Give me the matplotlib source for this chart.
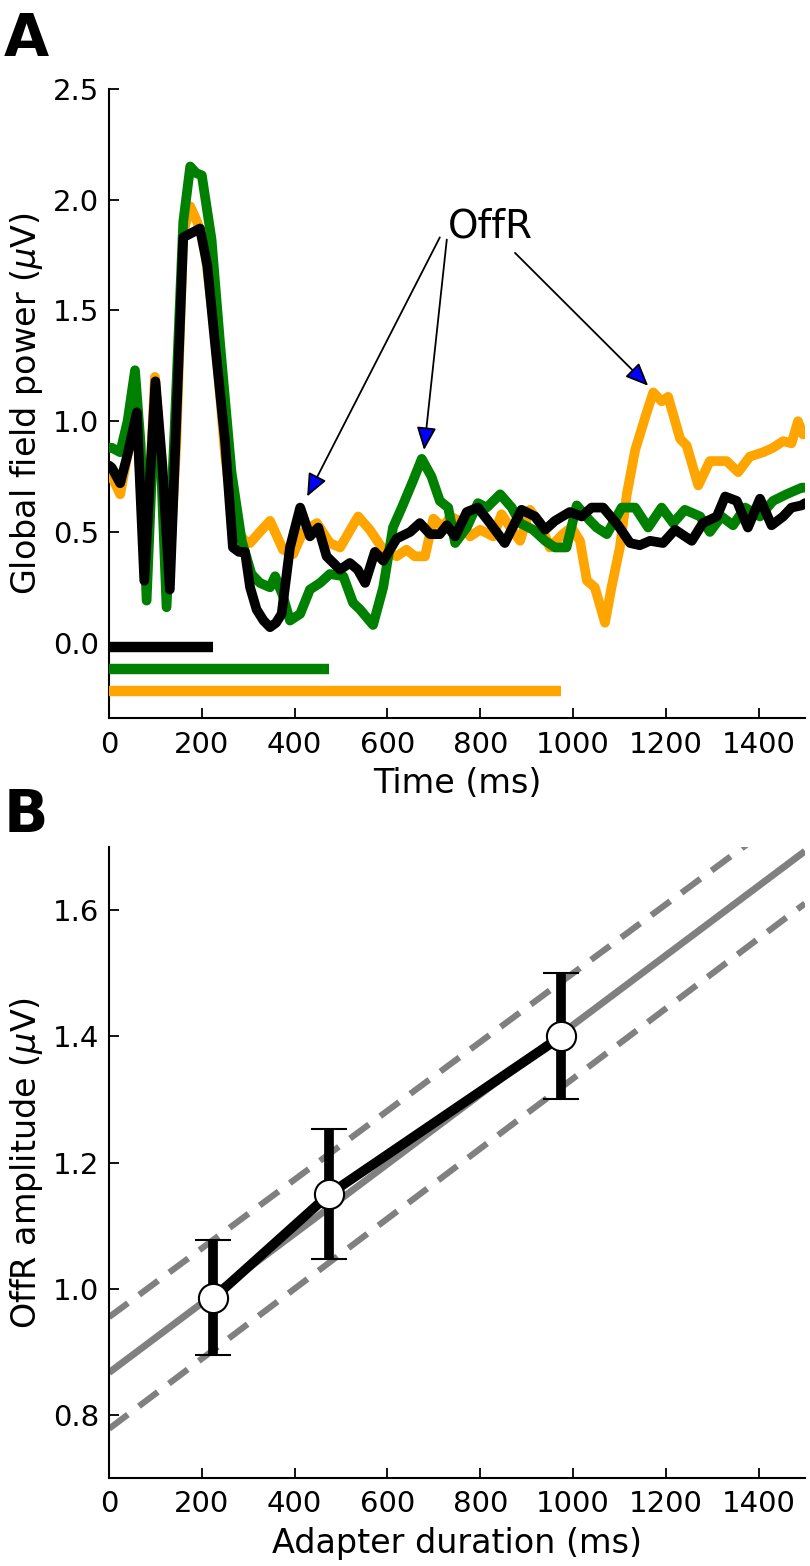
import matplotlib
matplotlib.use("Agg")
import matplotlib.pyplot as plt
import numpy as np

plt.rcParams['font.family'] = ['DejaVu Sans']
plt.rcParams['lines.scale_dashes'] = False
plt.rcParams['mathtext.fontset'] = 'dejavusans'

# ---------------- Panel A data ----------------
t_black = [0, 6, 24, 40, 60, 76, 100, 115, 131, 145, 160, 178, 196, 212, 228, 250, 267, 280, 293, 304,
           318, 333, 347, 360, 372, 390, 412, 433, 451, 469, 498, 519, 536, 552, 573, 591, 620, 649, 670,
           692, 713, 728, 746, 771, 795, 821, 853, 889, 918, 940, 961, 993, 1019, 1040, 1065, 1097, 1123,
           1144, 1166, 1194, 1220, 1256, 1280, 1310, 1328, 1353, 1377, 1403, 1428, 1453, 1471, 1493, 1500]
v_black = [0.80, 0.79, 0.72, 0.85, 1.04, 0.28, 1.18, 0.80, 0.24, 1.00, 1.83, 1.85, 1.87, 1.70, 1.36, 0.91,
           0.43, 0.41, 0.41, 0.25, 0.15, 0.10, 0.07, 0.09, 0.13, 0.43, 0.61, 0.48, 0.52, 0.39, 0.33, 0.36,
           0.33, 0.27, 0.41, 0.37, 0.47, 0.50, 0.54, 0.49, 0.49, 0.53, 0.48, 0.59, 0.61, 0.54, 0.45, 0.60,
           0.57, 0.51, 0.55, 0.59, 0.57, 0.61, 0.61, 0.53, 0.45, 0.44, 0.46, 0.45, 0.51, 0.46, 0.54, 0.57,
           0.66, 0.64, 0.52, 0.65, 0.53, 0.57, 0.61, 0.62, 0.63]

t_green = [0, 6, 24, 40, 56, 68, 81, 100, 112, 124, 140, 160, 175, 188, 200, 221, 239, 264, 286, 307, 325,
           347, 358, 375, 390, 412, 433, 455, 476, 505, 526, 541, 569, 591, 612, 631, 655, 674, 695, 713,
           731, 746, 771, 795, 814, 843, 868, 886, 914, 940, 961, 986, 1008, 1037, 1051, 1073, 1105, 1134,
           1162, 1191, 1216, 1241, 1274, 1295, 1320, 1345, 1371, 1403, 1431, 1460, 1493, 1500]
v_green = [0.88, 0.88, 0.86, 1.00, 1.23, 0.90, 0.19, 1.15, 0.80, 0.16, 0.90, 1.90, 2.15, 2.12, 2.11, 1.82,
           1.36, 0.77, 0.46, 0.31, 0.27, 0.25, 0.30, 0.21, 0.10, 0.13, 0.24, 0.27, 0.31, 0.30, 0.18, 0.15,
           0.08, 0.25, 0.52, 0.61, 0.73, 0.83, 0.75, 0.64, 0.61, 0.45, 0.52, 0.63, 0.61, 0.67, 0.61, 0.54,
           0.51, 0.46, 0.43, 0.43, 0.62, 0.55, 0.52, 0.49, 0.61, 0.61, 0.52, 0.61, 0.54, 0.60, 0.57, 0.50,
           0.57, 0.53, 0.61, 0.57, 0.64, 0.67, 0.70, 0.70]

t_orange = [0, 6, 24, 40, 60, 78, 99, 113, 128, 145, 160, 175, 190, 205, 228, 250, 270, 293, 304, 325, 347,
            375, 397, 418, 448, 476, 498, 537, 562, 591, 620, 641, 659, 681, 699, 720, 735, 756, 778, 800,
            828, 846, 868, 886, 907, 929, 950, 978, 997, 1015, 1030, 1047, 1069, 1083, 1101, 1116, 1134,
            1159, 1173, 1191, 1205, 1231, 1245, 1270, 1295, 1331, 1356, 1381, 1410, 1431, 1453, 1471, 1485,
            1496, 1500]
v_orange = [0.75, 0.75, 0.67, 0.85, 1.03, 0.30, 1.20, 0.80, 0.25, 0.90, 1.85, 1.97, 1.90, 1.80, 1.40, 0.85,
            0.52, 0.46, 0.45, 0.50, 0.55, 0.42, 0.40, 0.50, 0.54, 0.45, 0.43, 0.57, 0.51, 0.42, 0.39, 0.42,
            0.39, 0.39, 0.56, 0.52, 0.57, 0.55, 0.48, 0.51, 0.48, 0.58, 0.51, 0.46, 0.60, 0.54, 0.43, 0.49,
            0.52, 0.46, 0.28, 0.25, 0.09, 0.25, 0.43, 0.67, 0.87, 1.04, 1.13, 1.09, 1.11, 0.92, 0.89, 0.71,
            0.82, 0.82, 0.77, 0.84, 0.86, 0.88, 0.91, 0.90, 1.00, 0.94, 0.95]

adapter_durations = [225, 475, 975]
bar_levels = [-0.02, -0.12, -0.22]
series_colors = ['black', 'green', 'orange']

offr_label = 'OffR'
offr_text_pos = (822, 1.88)
arrow_starts = [(713, 1.83), (728, 1.82), (875, 1.76)]
arrow_tips = [(427, 0.66), (679, 0.87), (1162, 1.16)]

# ---------------- Panel B data ----------------
offr_amp = [0.985, 1.15, 1.40]
err_low = [0.895, 1.047, 1.30]
err_high = [1.077, 1.253, 1.50]
fit_intercept, fit_slope = 0.867, 0.000551
ci_up_intercept, ci_up_slope = 0.955, 0.000545
ci_lo_intercept, ci_lo_slope = 0.778, 0.000555
xticks = [0, 200, 400, 600, 800, 1000, 1200, 1400]

FS_TICK = 21
FS_LABEL = 24

fig = plt.figure(figsize=(8.1, 15.66), dpi=100)
axA = fig.add_axes([0.1346, 0.5415, 0.8592, 0.4017])
axB = fig.add_axes([0.1346, 0.0562, 0.8592, 0.4029])

def style(ax):
    for s in ['top', 'right']:
        ax.spines[s].set_visible(False)
    for s in ['left', 'bottom']:
        ax.spines[s].set_linewidth(1.5)
    ax.tick_params(direction='in', length=7, width=1.3, labelsize=FS_TICK, top=False, right=False)
    ax.tick_params(axis='x', pad=9)
    ax.tick_params(axis='y', pad=7)

# Panel A
for t, v, c in [(t_orange, v_orange, 'orange'), (t_green, v_green, 'green'), (t_black, v_black, 'black')]:
    axA.plot(t, v, color=c, lw=7, solid_joinstyle='round', solid_capstyle='round', zorder=3)
for d, lvl, c in zip(adapter_durations, bar_levels, series_colors):
    axA.hlines(lvl, 0, d, colors=c, lw=7.5, zorder=3)
axA.set_xlim(0, 1500)
axA.set_ylim(-0.34, 2.5)
axA.set_xticks(xticks)
axA.set_yticks([0.0, 0.5, 1.0, 1.5, 2.0, 2.5])
axA.set_yticklabels(['0.0', '0.5', '1.0', '1.5', '2.0', '2.5'])
axA.set_xlabel('Time (ms)', fontsize=FS_LABEL, labelpad=6)
axA.set_ylabel(r'Global field power ($\mu$V)', fontsize=FS_LABEL, labelpad=6)
style(axA)
axA.text(offr_text_pos[0], offr_text_pos[1], offr_label, fontsize=28, ha='center', va='center', zorder=5)
for s, tip in zip(arrow_starts, arrow_tips):
    axA.annotate('', xy=tip, xytext=s,
                 arrowprops=dict(arrowstyle='-|>,head_length=0.7,head_width=0.3', fc='blue', ec='black',
                                 lw=1.3, mutation_scale=20, shrinkA=0, shrinkB=0), zorder=5)

# Panel B
xx = np.array([0, 1500])
axB.plot(xx, fit_intercept + fit_slope * xx, color='#808080', lw=5, solid_capstyle='butt', zorder=2)
axB.plot(xx, ci_up_intercept + ci_up_slope * xx, color='#808080', lw=4.5, dashes=(17, 10),
         dash_capstyle='butt', zorder=2)
axB.plot(xx, ci_lo_intercept + ci_lo_slope * xx, color='#808080', lw=4.5, dashes=(17, 10),
         dash_capstyle='butt', zorder=2)
axB.plot(adapter_durations, offr_amp, color='black', lw=7, zorder=3)
yerr = [np.array(offr_amp) - np.array(err_low), np.array(err_high) - np.array(offr_amp)]
axB.errorbar(adapter_durations, offr_amp, yerr=yerr, fmt='none', ecolor='black', elinewidth=7,
             capsize=13, capthick=1.5, zorder=4)
axB.plot(adapter_durations, offr_amp, 'o', ms=21, mfc='white', mec='black', mew=1.5, zorder=5)
axB.set_xlim(0, 1500)
axB.set_ylim(0.7, 1.7)
axB.set_xticks(xticks)
axB.set_yticks([0.8, 1.0, 1.2, 1.4, 1.6])
axB.set_xlabel('Adapter duration (ms)', fontsize=FS_LABEL, labelpad=6)
axB.set_ylabel(r'OffR amplitude ($\mu$V)', fontsize=FS_LABEL, labelpad=6)
style(axB)

fig.text(0.005, 0.975, 'A', fontsize=42, fontweight='bold', va='center', ha='left')
fig.text(0.005, 0.479, 'B', fontsize=42, fontweight='bold', va='center', ha='left')

fig.savefig('out.png', dpi=100)
